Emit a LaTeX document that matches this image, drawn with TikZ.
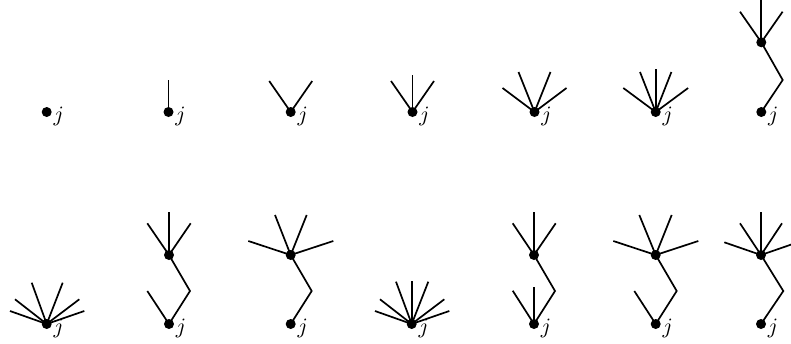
\documentclass[tikz,border=0pt]{standalone}
\begin{document}
\begin{tikzpicture}[x=0.5pt,y=-0.5pt,line width=0.85pt,
  dot/.style={circle,fill=black,draw=none,inner sep=0pt,minimum size=5pt},
  lab/.style={anchor=base west,inner sep=0pt,font=\fontsize{10.5}{12}\selectfont}]
\useasboundingbox (0,0) rectangle (791,343);
\clip (0,0) rectangle (791,343);
\newcommand\jl[1]{\node[lab] at ([xshift=3pt,yshift=-4.5pt]#1.center) {$j$};}
% ---------- top row ----------
\node[dot] (d1) at (46.7,112) {};
\jl{d1}
\node[dot] (d2) at (168.5,112) {};
\jl{d2}
\draw (d2.center) -- ++(0,-32);
\node[dot] (d3) at (290.7,112) {};
\jl{d3}
\draw (d3.center) -- ++(-21.5,-31);
\draw (d3.center) -- ++(21.5,-31);
\node[dot] (d4) at (412.5,112) {};
\jl{d4}
\draw (d4.center) -- ++(-21.5,-31);
\draw (d4.center) -- ++(0,-37);
\draw (d4.center) -- ++(21.5,-31);
\node[dot] (d5) at (534.5,112) {};
\jl{d5}
\draw (d5.center) -- ++(-32,-24);
\draw (d5.center) -- ++(-16,-40);
\draw (d5.center) -- ++(16,-40);
\draw (d5.center) -- ++(32,-24);
\node[dot] (d6) at (655.7,112) {};
\jl{d6}
\draw (d6.center) -- ++(-32.4,-24);
\draw (d6.center) -- ++(-15.7,-40);
\draw (d6.center) -- ++(0,-43);
\draw (d6.center) -- ++(15.7,-40);
\draw (d6.center) -- ++(32.4,-24);
\node[dot] (d7) at (761.3,112) {};
\jl{d7}
\node[dot] (u7) at (761.3,42.3) {};
\coordinate (k7) at (782.7,80);
\draw (d7.center) -- (k7) -- (u7.center);
\draw (u7.center) -- ++(-21.3,-30.6);
\draw (u7.center) -- ++(0,-42.3);
\draw (u7.center) -- ++(21.3,-30.6);
% ---------- bottom row ----------
\node[dot] (d8) at (46.7,324) {};
\jl{d8}
\draw (d8.center) -- ++(-36.7,-13);
\draw (d8.center) -- ++(-31.7,-24.7);
\draw (d8.center) -- ++(-15,-41.3);
\draw (d8.center) -- ++(16,-41.3);
\draw (d8.center) -- ++(32.6,-24.7);
\draw (d8.center) -- ++(37.6,-13);
\node[dot] (d9) at (169,324) {};
\jl{d9}
\node[dot] (u9) at (169,255) {};
\coordinate (k9) at (190,291);
\draw (d9.center) -- (k9) -- (u9.center);
\draw (u9.center) -- ++(-21.7,-31.7);
\draw (u9.center) -- ++(0,-42.7);
\draw (u9.center) -- ++(21.7,-31.7);
\draw (d9.center) -- ++(-21.7,-33);
\node[dot] (d10) at (290.7,324) {};
\jl{d10}
\node[dot] (u10) at (290.7,255) {};
\coordinate (k10) at (311.7,291);
\draw (d10.center) -- (k10) -- (u10.center);
\draw (u10.center) -- ++(-42.4,-14);
\draw (u10.center) -- ++(-15.7,-40);
\draw (u10.center) -- ++(16,-40);
\draw (u10.center) -- ++(42.6,-14);
\node[dot] (d11) at (411.7,324) {};
\jl{d11}
\draw (d11.center) -- ++(-36.7,-13);
\draw (d11.center) -- ++(-31.7,-24.7);
\draw (d11.center) -- ++(-15.7,-42.3);
\draw (d11.center) -- ++(0,-43);
\draw (d11.center) -- ++(16.6,-42.3);
\draw (d11.center) -- ++(32.6,-24.7);
\draw (d11.center) -- ++(37.6,-13);
\node[dot] (d12) at (534,324) {};
\jl{d12}
\node[dot] (u12) at (534,255) {};
\coordinate (k12) at (555,291);
\draw (d12.center) -- (k12) -- (u12.center);
\draw (u12.center) -- ++(-21.3,-31.7);
\draw (u12.center) -- ++(0,-42.7);
\draw (u12.center) -- ++(21.7,-31.7);
\draw (d12.center) -- ++(-21.3,-33.3);
\draw (d12.center) -- ++(0,-37.3);
\node[dot] (d13) at (655.7,324) {};
\jl{d13}
\node[dot] (u13) at (655.7,255) {};
\coordinate (k13) at (676.7,291);
\draw (d13.center) -- (k13) -- (u13.center);
\draw (u13.center) -- ++(-42.4,-14);
\draw (u13.center) -- ++(-16.4,-40);
\draw (u13.center) -- ++(16,-40);
\draw (u13.center) -- ++(42.6,-14);
\draw (d13.center) -- ++(-21.4,-33);
\node[dot] (d14) at (761,324) {};
\jl{d14}
\node[dot] (u14) at (761,255) {};
\coordinate (k14) at (783.3,291);
\draw (d14.center) -- (k14) -- (u14.center);
\draw (u14.center) -- ++(-36.7,-12.7);
\draw (u14.center) -- ++(-21,-31.7);
\draw (u14.center) -- ++(0,-42.7);
\draw (u14.center) -- ++(21,-31.7);
\draw (u14.center) -- ++(36.7,-12.7);
\end{tikzpicture}
\end{document}
